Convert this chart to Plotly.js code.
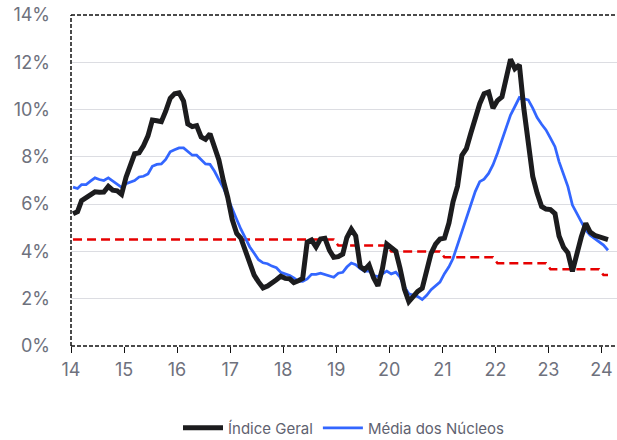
<!DOCTYPE html>
<html>
<head>
<meta charset="utf-8">
<script src="https://cdn.plot.ly/plotly-3.0.1.min.js"></script>
<style>
html,body{margin:0;padding:0;background:#fff;}
#chart{width:617px;height:440px;}
</style>
</head>
<body>
<div id="chart"></div>
<script>
// Monthly series, Jan 2014 - Feb 2024
const startYear = 2014;
const startMonth = 1;

const indiceGeral = [
  5.59, 5.68, 6.15, 6.28, 6.37, 6.52, 6.50, 6.51, 6.75, 6.59, 6.56, 6.41,
  7.14, 7.70, 8.13, 8.17, 8.47, 8.89, 9.56, 9.53, 9.49, 9.93, 10.48, 10.67,
  10.71, 10.36, 9.39, 9.28, 9.32, 8.84, 8.74, 8.97, 8.48, 7.87, 6.99, 6.29,
  5.35, 4.76, 4.57, 4.08, 3.60, 3.00, 2.71, 2.46, 2.54, 2.70, 2.80, 2.95,
  2.86, 2.84, 2.68, 2.76, 2.86, 4.39, 4.48, 4.19, 4.53, 4.56, 4.05, 3.75,
  3.78, 3.89, 4.58, 4.94, 4.66, 3.37, 3.22, 3.43, 2.89, 2.54, 3.27, 4.31,
  4.19, 4.01, 3.30, 2.40, 1.88, 2.13, 2.31, 2.44, 3.14, 3.92, 4.31, 4.52,
  4.56, 5.20, 6.10, 6.76, 8.06, 8.35, 8.99, 9.68, 10.25, 10.67, 10.74, 10.06,
  10.38, 10.54, 11.30, 12.13, 11.73, 11.89, 10.07, 8.73, 7.17, 6.47, 5.90, 5.79,
  5.77, 5.60, 4.65, 4.18, 3.94, 3.16, 3.99, 4.61, 5.19, 4.82, 4.68, 4.62,
  4.51, 4.50
];

const mediaNucleos = [
  6.72, 6.66, 6.83, 6.83, 6.97, 7.11, 7.04, 7.00, 7.11, 6.97, 6.83, 6.71,
  6.86, 6.93, 7.00, 7.15, 7.18, 7.28, 7.60, 7.68, 7.70, 7.89, 8.21, 8.30,
  8.38, 8.38, 8.21, 8.07, 8.07, 7.89, 7.70, 7.68, 7.39, 7.04, 6.69, 6.26,
  5.84, 5.35, 4.95, 4.55, 4.20, 3.92, 3.65, 3.52, 3.48, 3.38, 3.31, 3.12,
  3.05, 2.98, 2.88, 2.74, 2.73, 2.84, 3.03, 3.03, 3.08, 3.03, 2.97, 2.91,
  3.08, 3.12, 3.34, 3.51, 3.44, 3.27, 3.17, 3.17, 2.98, 2.94, 3.05, 3.17,
  3.05, 3.12, 2.91, 2.49, 2.21, 2.14, 2.09, 1.97, 2.14, 2.38, 2.56, 2.70,
  3.06, 3.35, 3.70, 4.27, 4.83, 5.40, 6.03, 6.53, 6.95, 7.06, 7.30, 7.66,
  8.15, 8.71, 9.28, 9.77, 10.13, 10.51, 10.45, 10.41, 10.06, 9.66, 9.38, 9.14,
  8.79, 8.43, 7.80, 7.30, 6.74, 5.96, 5.61, 5.25, 4.90, 4.69, 4.55, 4.41,
  4.27, 4.05
];

const meta = [
  4.5, 4.5, 4.5, 4.5, 4.5, 4.5, 4.5, 4.5, 4.5, 4.5, 4.5, 4.5,
  4.5, 4.5, 4.5, 4.5, 4.5, 4.5, 4.5, 4.5, 4.5, 4.5, 4.5, 4.5,
  4.5, 4.5, 4.5, 4.5, 4.5, 4.5, 4.5, 4.5, 4.5, 4.5, 4.5, 4.5,
  4.5, 4.5, 4.5, 4.5, 4.5, 4.5, 4.5, 4.5, 4.5, 4.5, 4.5, 4.5,
  4.5, 4.5, 4.5, 4.5, 4.5, 4.5, 4.5, 4.5, 4.5, 4.5, 4.5, 4.5,
  4.25, 4.25, 4.25, 4.25, 4.25, 4.25, 4.25, 4.25, 4.25, 4.25, 4.25, 4.25,
  4.0, 4.0, 4.0, 4.0, 4.0, 4.0, 4.0, 4.0, 4.0, 4.0, 4.0, 4.0,
  3.75, 3.75, 3.75, 3.75, 3.75, 3.75, 3.75, 3.75, 3.75, 3.75, 3.75, 3.75,
  3.5, 3.5, 3.5, 3.5, 3.5, 3.5, 3.5, 3.5, 3.5, 3.5, 3.5, 3.5,
  3.25, 3.25, 3.25, 3.25, 3.25, 3.25, 3.25, 3.25, 3.25, 3.25, 3.25, 3.25,
  3.0, 3.0
];

const yTickVals = [0, 2, 4, 6, 8, 10, 12, 14];
const yTickText = ['0%', '2%', '4%', '6%', '8%', '10%', '12%', '14%'];
const legendNames = ['Índice Geral', 'Média dos Núcleos', 'Meta'];

// month dates (mid-month)
const dates = indiceGeral.map(function (_, i) {
  const m = startMonth - 1 + i;
  const y = startYear + Math.floor(m / 12);
  const mm = (m % 12) + 1;
  return y + '-' + (mm < 10 ? '0' + mm : mm) + '-15';
});

const FONT = 'Inter, Roboto, "DejaVu Sans", sans-serif';
const GREY = '#6e717d';

const traces = [
  {
    x: dates, y: meta, name: legendNames[2], type: 'scatter', mode: 'lines',
    line: {color: '#e60000', width: 2.5, dash: '9px,5px'},
    showlegend: false, hoverinfo: 'skip'
  },
  {
    x: dates, y: mediaNucleos, name: legendNames[1], type: 'scatter', mode: 'lines',
    line: {color: '#3366ff', width: 2.75},
    legendrank: 2
  },
  {
    x: dates, y: indiceGeral, name: legendNames[0], type: 'scatter', mode: 'lines',
    line: {color: '#1c1c1e', width: 5},
    legendrank: 1
  }
];

const dashLine = {color: '#111111', width: 1.5, dash: '4px,2px'};

const layout = {
  width: 617, height: 440,
  margin: {l: 71, r: 0, t: 15, b: 94, pad: 0, autoexpand: false},
  paper_bgcolor: '#ffffff', plot_bgcolor: '#ffffff',
  font: {family: FONT, color: GREY, size: 18},
  xaxis: {
    type: 'date',
    range: ['2014-01-01', '2024-04-17'],
    tick0: '2014-01-01', dtick: 'M12', tickformat: '%y',
    ticks: 'outside', ticklen: 6, tickwidth: 1, tickcolor: '#111111',
    showgrid: false, zeroline: false, showline: false,
    tickfont: {family: FONT, size: 18, color: GREY},
    ticklabelstandoff: 1
  },
  yaxis: {
    range: [0, 14],
    tickmode: 'array', tickvals: yTickVals, ticktext: yTickText,
    ticks: '', showgrid: true, gridcolor: '#dcdde2', gridwidth: 1,
    zeroline: false, showline: false,
    tickfont: {family: FONT, size: 18, color: GREY},
    ticklabelstandoff: 20
  },
  showlegend: true,
  legend: {
    orientation: 'h', x: 0.5, xanchor: 'center', y: -0.248, yanchor: 'middle',
    font: {family: FONT, size: 15, color: '#5f6270'},
    traceorder: 'normal', itemwidth: 40, bgcolor: 'rgba(0,0,0,0)'
  },
  shapes: [
    {type: 'line', xref: 'paper', yref: 'paper', x0: 0, x1: 0, y0: 0, y1: 1, line: dashLine, layer: 'above'},
    {type: 'line', xref: 'paper', yref: 'paper', x0: 0, x1: 1, y0: 1, y1: 1, line: dashLine, layer: 'above'},
    {type: 'line', xref: 'paper', yref: 'paper', x0: 0, x1: 1, y0: 0, y1: 0, line: dashLine, layer: 'above'}
  ]
};

Plotly.newPlot('chart', traces, layout, {staticPlot: true, displayModeBar: false});
</script>
</body>
</html>
